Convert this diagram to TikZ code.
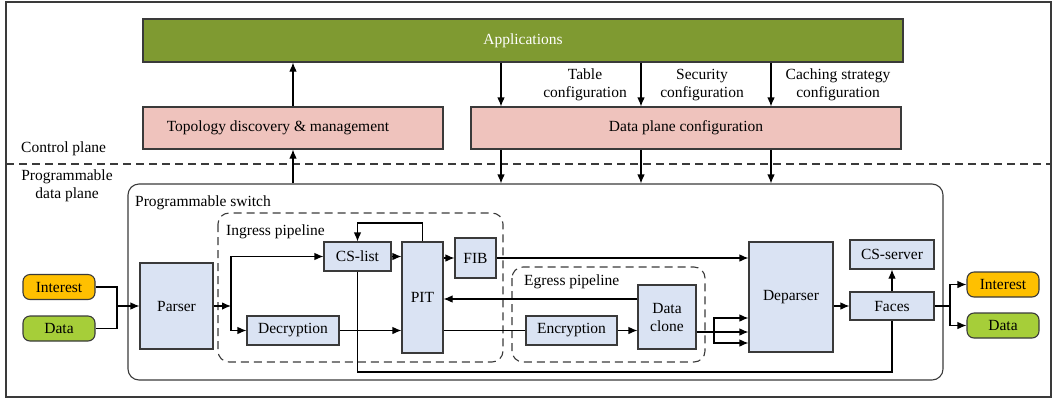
\documentclass[tikz,border=0pt]{standalone}
\usepackage{fontspec}
\setmainfont{Liberation Serif}
\usetikzlibrary{arrows.meta,calc}
\definecolor{appgreen}{HTML}{7F9A31}
\definecolor{cfgpink}{HTML}{EFC3BD}
\definecolor{blkblue}{HTML}{DAE3F3}
\definecolor{pktorange}{HTML}{FFC000}
\definecolor{pktgreen}{HTML}{A6CE39}
\definecolor{edge}{HTML}{3A3A3A}
\tikzset{
  every node/.style={font=\fontsize{15.5}{18}\selectfont},
  blk/.style={draw=edge, line width=1.1pt, fill=blkblue, inner sep=0pt, align=center},
  cfgbox/.style={draw=edge, line width=1.1pt, fill=cfgpink, inner sep=0pt},
  pkt/.style={draw=edge, line width=1.1pt, rounded corners=7pt, inner sep=0pt,
    minimum width=72, minimum height=25},
  arr/.style={line width=1.1pt, -{Latex[length=9pt,width=7.5pt]}},
  wire/.style={line width=1.1pt},
  pipe/.style={draw=edge, line width=1.1pt, dash pattern=on 8pt off 5pt, rounded corners=11pt},
  lbl/.style={inner sep=0pt, anchor=west},
}
\begin{document}
\begin{tikzpicture}[x=1pt,y=-1pt]
\useasboundingbox (0,0) rectangle (1056,400);

% outer frame and plane separator
\draw[edge, line width=1.1pt] (6,2) rectangle (1051,397);
\draw[edge, line width=1.1pt, dash pattern=on 8pt off 5pt] (6,164) -- (1051,164);
\node[lbl] (cp) at (21,149) {Control plane};
\node[inner sep=0pt, align=center] (dp) at (67,186) {Programmable\\data plane};

% control plane
\node[draw=edge, line width=1.1pt, fill=appgreen, minimum width=760, minimum height=43,
  inner sep=0pt, text=white] (app) at (523,40.5) {Applications};
\node[cfgbox, minimum width=300, minimum height=42] (topo) at (293,128)
  {Topology discovery \& management\hspace*{30pt}};
\node[cfgbox, minimum width=430, minimum height=42] (dpc) at (686,128) {Data plane configuration};

\node[inner sep=0pt, align=center] (tcfg) at (585,85) {Table\\configuration};
\node[inner sep=0pt, align=center] (scfg) at (702,85) {Security\\configuration};
\node[inner sep=0pt, align=center] (ccfg) at (838,85) {Caching strategy\\configuration};

% programmable switch and pipelines
\node[draw=edge, line width=1.1pt, rounded corners=11pt, minimum width=815, minimum height=196,
  inner sep=0pt] (sw) at (535.5,282) {};
\node[lbl] (swl) at (135,203) {Programmable switch};
\draw[pipe] (218,213) rectangle (503,362);
\node[lbl] (ingl) at (226,232) {Ingress pipeline};
\draw[pipe] (512,267) rectangle (705,362);
\node[lbl] (egl) at (524,282) {Egress pipeline};

% blocks
\node[pkt, fill=pktorange] (inL) at (59,287) {Interest};
\node[pkt, fill=pktgreen] (daL) at (59,328.5) {Data};
\node[blk, minimum width=73, minimum height=86] (parser) at (176.5,306) {Parser};
\node[blk, minimum width=67, minimum height=29] (cslist) at (357.5,256.5) {CS-list};
\node[blk, minimum width=92, minimum height=29] (decrypt) at (293,330.5) {Decryption};
\node[blk, minimum width=41, minimum height=111] (pit) at (422.5,297.5) {PIT};
\node[blk, minimum width=41, minimum height=40] (fib) at (475.5,258) {FIB};
\node[blk, minimum width=91, minimum height=29] (encrypt) at (571.5,330.5) {Encryption};
\node[blk, minimum width=58, minimum height=64] (dclone) at (667,317) {Data\\clone};
\node[blk, minimum width=84, minimum height=110] (deparser) at (791,297) {Deparser};
\node[blk, minimum width=84, minimum height=29] (csserver) at (892,254.5) {CS-server};
\node[blk, minimum width=84, minimum height=28] (faces) at (892,306) {Faces};
\node[pkt, fill=pktorange] (inR) at (1003,284.5) {Interest};
\node[pkt, fill=pktgreen] (daR) at (1003,325.5) {Data};

% helper coordinates
\coordinate (xa) at (501,0);
\coordinate (xb) at (641,0);
\coordinate (xc) at (771,0);
\coordinate (j1) at (117,306);
\coordinate (j2) at (231,306);
\coordinate (yfb) at (0,223);
\coordinate (ybot) at (0,372);
\coordinate (yback) at (0,299);
\coordinate (j3) at (714,332);
\coordinate (yup) at (0,318);
\coordinate (ydn) at (0,343);
\coordinate (j4) at (950,306);

% control plane connectors
\draw[arr] (topo.north) -- (topo.north |- app.south);
\draw[arr] (sw.north -| topo) -- (topo.south);
\foreach \c in {xa,xb,xc}{
  \draw[arr] (app.south -| \c) -- (dpc.north -| \c);
  \draw[arr] (dpc.south -| \c) -- (sw.north -| \c);
}

% data plane connectors
\draw[wire] (inL.east) -| (j1);
\draw[wire] (daL.east) -| (j1);
\draw[arr] (j1) -- (parser.west);
\draw[arr] (parser.east) -- (j2);
\draw[arr] (j2) |- (cslist.west);
\draw[arr] (j2) |- (decrypt.west);
\draw[arr] (cslist.east) -- (cslist.east -| pit.west);
\draw[arr] (decrypt.east) -- (decrypt.east -| pit.west);
\draw[arr] (pit.east |- fib) -- (fib.west);
\draw[arr] (pit.north) -- (pit.north |- yfb) -| (cslist.north);
\draw[wire] (cslist.south) -- (cslist.south |- ybot) -| (faces.south);
\draw[arr] (fib.east) -- (fib.east -| deparser.west);
\draw[arr] (dclone.west |- yback) -- (pit.east |- yback);
\draw[wire] (pit.east |- encrypt) -- (encrypt.west);
\draw[arr] (encrypt.east) -- (encrypt.east -| dclone.west);
\draw[wire] (dclone.east |- j3) -- (j3);
\draw[arr] (j3) -- (j3 -| deparser.west);
\draw[arr] (j3) |- (deparser.west |- yup);
\draw[arr] (j3) |- (deparser.west |- ydn);
\draw[arr] (deparser.east |- faces) -- (faces.west);
\draw[arr] (faces.north) -- (csserver.south);
\draw[wire] (faces.east) -- (j4);
\draw[arr] (j4) |- (inR.west);
\draw[arr] (j4) |- (daR.west);
\end{tikzpicture}
\end{document}
